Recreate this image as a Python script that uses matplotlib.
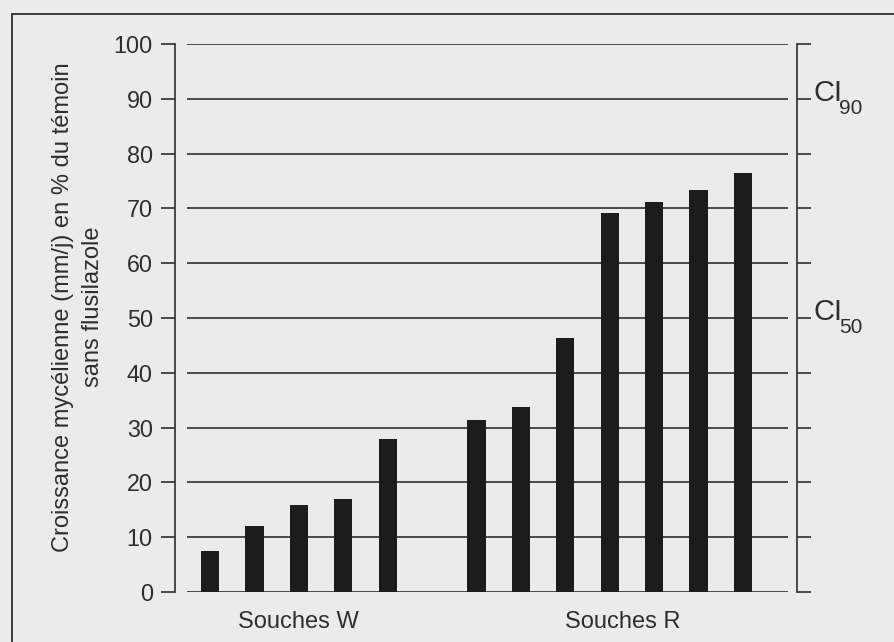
import matplotlib
matplotlib.use('Agg')
import matplotlib.pyplot as plt
import matplotlib.patches as patches
import matplotlib.transforms as mtransforms

# data
souches_w = [7.5, 12.0, 15.8, 17.0, 28.0]
souches_r = [31.4, 33.7, 46.3, 69.2, 71.2, 73.4, 76.4]
group_labels = ['Souches W', 'Souches R']
y_ticks = [0, 10, 20, 30, 40, 50, 60, 70, 80, 90, 100]
ci_levels = [90, 50]
ci_subs = ['90', '50']
y_label = 'Croissance mycélienne (mm/j) en % du témoin\nsans flusilazole'

plt.rcParams['font.family'] = ['Liberation Sans', 'DejaVu Sans']

bg = '#eaebea'
ink = '#2e2e2e'

W, H = 895, 642
fig = plt.figure(figsize=(W / 100, H / 100), dpi=100, facecolor=bg)

# outer frame (cut at the right and bottom edges like the scan)
fig.patches.append(patches.Rectangle((12 / W, -0.05), 1.1, 1 - 14 / H + 0.05,
                                     transform=fig.transFigure, fill=False,
                                     edgecolor=ink, linewidth=1.3))

ax = fig.add_axes([175 / W, 1 - 592 / H, (797 - 175) / W, (592 - 44) / H])
ax.set_facecolor('none')

# bar positions: W in slots 0-4, one empty slot, R in 6-12
pos_w = list(range(len(souches_w)))
pos_r = [len(souches_w) + 1 + i for i in range(len(souches_r))]

ax.set_xlim(-0.79, 13.22)
ax.set_ylim(0, 100)

# horizontal lines, not touching the axes
ax.hlines(y_ticks, -0.52, 13.02, color=ink, linewidth=1.2, zorder=1)

ax.bar(pos_w, souches_w, width=0.41, color='#1c1c1c', zorder=2)
ax.bar(pos_r, souches_r, width=0.41, color='#1c1c1c', zorder=2)

for s in ['top', 'bottom']:
    ax.spines[s].set_visible(False)
for s in ['left', 'right']:
    ax.spines[s].set_color(ink)
    ax.spines[s].set_linewidth(1.2)

ax.set_yticks(y_ticks)
ax.tick_params(axis='y', which='both', left=True, right=True, labelleft=True,
               labelright=False, direction='out', length=10, width=1.2,
               color=ink, labelcolor=ink, labelsize=16.8, pad=6)

# group labels as x tick labels
ax.set_xticks([pos_w[2], pos_r[3] + 0.3])
ax.set_xticklabels(group_labels)
ax.tick_params(axis='x', length=0, labelsize=17, labelcolor=ink, pad=14)

ax.set_ylabel(y_label, fontsize=17, color=ink, linespacing=1.45)
ax.yaxis.set_label_coords(-0.114, 0.52)

# CI labels at the right axis, subscript drawn as a separate smaller text
trans = mtransforms.blended_transform_factory(ax.transAxes, ax.transData)
for lvl, sub in zip(ci_levels, ci_subs):
    ax.text(1.026, lvl - 0.4, 'CI', transform=trans, fontsize=21, color=ink,
            va='baseline', ha='left', clip_on=False)
    ax.text(1.068, lvl - 2.8, sub, transform=trans, fontsize=15, color=ink,
            va='baseline', ha='left', clip_on=False)

fig.savefig('out.png', dpi=100, facecolor=bg)
